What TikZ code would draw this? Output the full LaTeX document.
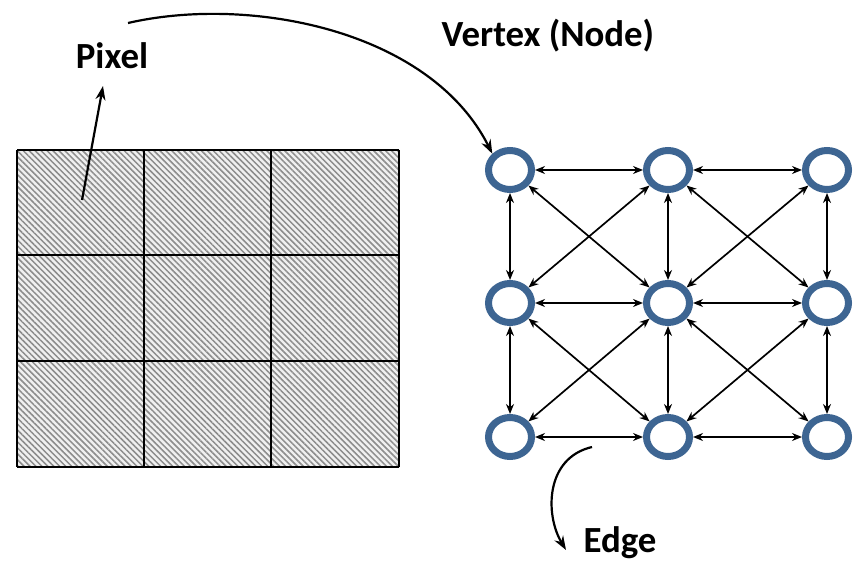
\documentclass[tikz,border=0pt]{standalone}
\usepackage{fontspec}
\setmainfont{Carlito}
\usepackage{tikz}
\usetikzlibrary{arrows.meta,patterns.meta,shapes.geometric,positioning}
\definecolor{ringblue}{HTML}{3D6592}
\tikzset{
    vertex/.style={ellipse,draw=ringblue,line width=7bp,fill=white,inner sep=0pt,
                   outer sep=3.5bp,minimum width=43bp,minimum height=39bp},
    link/.style={{Stealth[length=10bp,width=8bp]}-{Stealth[length=10bp,width=8bp]},line width=1.7bp},
    pointer/.style={-{Stealth[length=14bp,width=10bp]},line width=2.2bp},
    label/.style={font=\fontsize{37}{40}\selectfont\bfseries,anchor=base,inner sep=0pt},
    every node/.append style={scale=1}
}

\begin{document}
\begin{tikzpicture}[x=1bp,y=-1bp]
    \useasboundingbox (0,0) rectangle (859,561);

    \fill[gray!12] (17,150) rectangle (399,467);
    \fill[pattern={Lines[angle=-45,distance=4.2bp,line width=1.5bp]},pattern color=black!45]
        (17,150) rectangle (399,467);
    \foreach \x in {17,144,271,399} \draw[line width=2.8bp] (\x,150) -- (\x,467);
    \foreach \y in {150,255,361,467} \draw[line width=2.8bp] (17,\y) -- (399,\y);

    \node[label] (pixel) at (112,69) {Pixel};
    \node[label] (vertex label) at (548,47) {Vertex (Node)};
    \node[label] (edge label) at (620,552) {Edge};

    \foreach \i/\x in {1/510,2/668,3/827}
        \foreach \j/\y in {1/170,2/303,3/437}
            \node[vertex] (v\j\i) at (\x,\y) {};

    \foreach \j in {1,2,3} {
        \foreach \i/\k in {1/2,2/3} {
            \draw[link] (v\j\i) -- (v\j\k);
            \draw[link] (v\i\j) -- (v\k\j);
        }
    }
    \foreach \j/\k in {1/2,2/3} {
        \foreach \i/\l in {1/2,2/3} {
            \draw[link] (v\j\i) -- (v\k\l);
            \draw[link] (v\j\l) -- (v\k\i);
        }
    }

    \coordinate (cell) at (82,200);
    \coordinate (pixel tip) at (103,86);
    \draw[pointer] (cell) -- (pixel tip);

    \coordinate (curve start) at (128,23);
    \draw[pointer] (curve start) .. controls (250,-5) and (430,30) .. (v11.north west);

    \coordinate (edge start) at (592,447);
    \coordinate (edge tip) at (566,550);
    \draw[pointer] (edge start) .. controls (545,458) and (545,515) .. (edge tip);
\end{tikzpicture}
\end{document}
